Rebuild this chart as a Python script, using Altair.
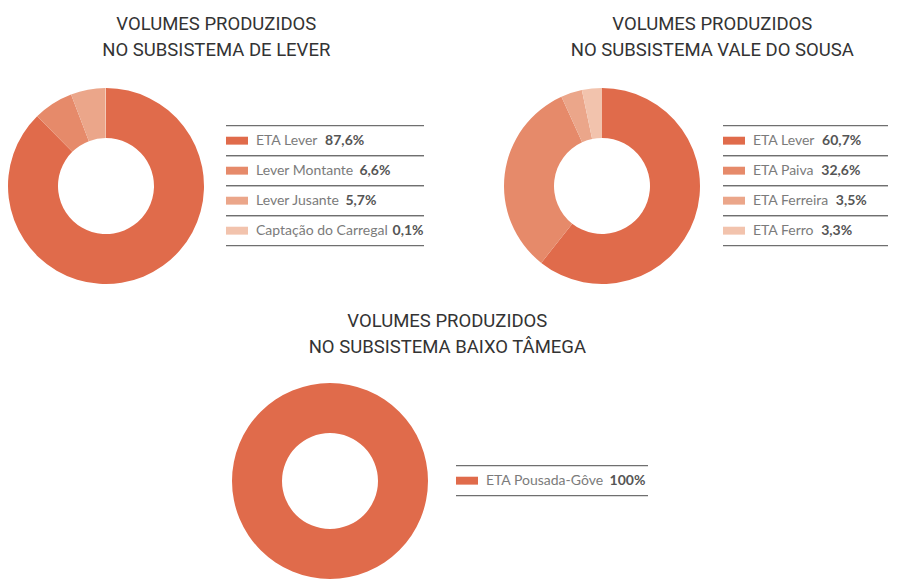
import altair as alt
import pandas as pd

# ---------------- data ----------------
lever_labels = ["ETA Lever", "Lever Montante", "Lever Jusante", "Captação do Carregal"]
lever_values = [87.6, 6.6, 5.7, 0.1]

sousa_labels = ["ETA Lever", "ETA Paiva", "ETA Ferreira", "ETA Ferro"]
sousa_values = [60.7, 32.6, 3.5, 3.3]

tamega_labels = ["ETA Pousada-Gôve"]
tamega_values = [100]

title_lever = ["VOLUMES PRODUZIDOS", "NO SUBSISTEMA DE LEVER"]
title_sousa = ["VOLUMES PRODUZIDOS", "NO SUBSISTEMA VALE DO SOUSA"]
title_tamega = ["VOLUMES PRODUZIDOS", "NO SUBSISTEMA BAIXO TÂMEGA"]

palette = ["#E06B4B", "#E68A6A", "#EBA68A", "#F2C3AD"]

# ---------------- styling ----------------
LABEL_FONT = "Lato"
LABEL_SIZE = 14
TITLE_FONT = "Roboto"
ROW_H = 30
LABEL_X = 30
GAP = 8.5

# approximate Lato advance widths (em)
W = {" ": 0.20, "a": 0.49, "b": 0.55, "c": 0.46, "d": 0.55, "e": 0.51, "f": 0.32,
     "g": 0.50, "h": 0.55, "i": 0.24, "j": 0.24, "k": 0.49, "l": 0.24, "m": 0.82,
     "n": 0.55, "o": 0.55, "p": 0.55, "q": 0.55, "r": 0.36, "s": 0.42, "t": 0.35,
     "u": 0.55, "v": 0.50, "w": 0.77, "x": 0.49, "y": 0.50, "z": 0.44,
     "ã": 0.49, "ç": 0.46, "ô": 0.55, "-": 0.36,
     "A": 0.68, "C": 0.66, "E": 0.53, "F": 0.50, "G": 0.70, "J": 0.36, "L": 0.47,
     "M": 0.88, "P": 0.57, "T": 0.57, "V": 0.68}


def text_width(s):
    return sum(W.get(ch, 0.55) for ch in s) * LABEL_SIZE


def fmt_pct(v):
    if float(v).is_integer():
        return f"{int(v)}%"
    return f"{v:.1f}".replace(".", ",") + "%"


def frame(labels, values):
    return pd.DataFrame({
        "label": labels,
        "value": values,
        "rank": list(range(len(labels))),
        "pct": [fmt_pct(v) for v in values],
        "vx": [LABEL_X + text_width(l) + GAP for l in labels],
    })


color_enc = alt.Color("rank:O", scale=alt.Scale(domain=[0, 1, 2, 3], range=palette), legend=None)


def donut(df):
    return alt.Chart(df).mark_arc(outerRadius=98, innerRadius=48).encode(
        theta=alt.Theta("value:Q", stack="normalize"),
        order=alt.Order("rank:Q", sort="ascending"),
        color=color_enc,
    ).properties(width=196, height=196)


def legend(df, labels, width):
    yscale = alt.Scale(type="band", paddingInner=0, paddingOuter=0)
    base = alt.Chart(df)
    top_rule = base.mark_rule(color="#6f6f6f", strokeWidth=1.3).encode(
        y=alt.Y("label:N", sort=labels, scale=yscale, axis=None, bandPosition=0))
    bot_rule = base.mark_rule(color="#6f6f6f", strokeWidth=1.3).encode(
        y=alt.Y("label:N", sort=labels, scale=yscale, axis=None, bandPosition=1))
    y_mid = alt.Y("label:N", sort=labels, scale=yscale, axis=None)
    swatch = base.mark_point(shape="M-1,-0.36H1V0.36H-1Z", filled=True, size=484, opacity=1).encode(
        x=alt.value(11), y=y_mid, color=color_enc)
    lab = base.mark_text(align="left", baseline="middle", font=LABEL_FONT, fontSize=LABEL_SIZE,
                         color="#7b7b7b").encode(x=alt.value(LABEL_X), y=y_mid, text="label:N")
    val = base.mark_text(align="left", baseline="middle", font=LABEL_FONT, fontSize=LABEL_SIZE,
                         fontWeight="bold", color="#555555").encode(
        x=alt.X("vx:Q", scale=None), y=y_mid, text="pct:N")
    return alt.layer(top_rule, bot_rule, swatch, lab, val).properties(
        width=width, height=ROW_H * len(labels))


def panel(labels, values, title, lw, spacing, dx, offset):
    df = frame(labels, values)
    return alt.hconcat(
        donut(df), legend(df, labels, lw), spacing=spacing, center=True,
        title=alt.TitleParams(text=title, anchor="middle", font=TITLE_FONT, fontSize=18.5,
                              fontWeight="normal", color="#333333", lineHeight=26,
                              offset=offset, dx=dx),
    )


p1 = panel(lever_labels, lever_values, title_lever, 198, 21, 0, 29)
p2 = panel(sousa_labels, sousa_values, title_sousa, 165, 22, 16, 29)
p3 = panel(tamega_labels, tamega_values, title_tamega, 192, 27, 7, 27)

# invisible spacer that pushes the bottom panel to its place
spacer = alt.Chart(pd.DataFrame({"s": [""]})).mark_text(opacity=0).encode(
    text="s:N").properties(width=224, height=1)

chart = alt.vconcat(
    alt.hconcat(p1, p2, spacing=79),
    alt.hconcat(spacer, p3, spacing=0),
    spacing=27,
).properties(
    padding={"left": 0, "top": 6, "right": 0, "bottom": 0}
).configure_view(stroke=None)

chart.save("out.html", embed_options={"renderer": "svg", "actions": False})
